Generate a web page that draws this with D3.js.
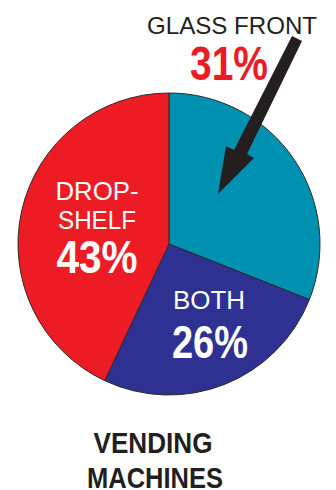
<!DOCTYPE html>
<html>
<head>
<meta charset="utf-8">
<script src="https://cdn.jsdelivr.net/npm/d3@7"></script>
<style>
  html, body { margin: 0; padding: 0; background: #fff; }
  svg { display: block; }
</style>
</head>
<body>
<svg id="chart" width="336" height="490"></svg>
<script>
// Share of vending machines by door type
const categories = ["GLASS FRONT", "BOTH", "DROP-SHELF"];
const values = [31, 26, 43];
const colors = ["#0090b0", "#2e3192", "#ed1c24"];
const title = ["VENDING", "MACHINES"];

const svg = d3.select("#chart");
const cx = 169, cy = 244, r = 151;

const pie = d3.pie().sort(null).value(d => d.value).startAngle(0).endAngle(2 * Math.PI);
const arc = d3.arc().innerRadius(0).outerRadius(r);
const data = categories.map((c, i) => ({ name: c, value: values[i], color: colors[i] }));
const arcs = pie(data);

const g = svg.append("g").attr("transform", `translate(${cx},${cy})`);
g.selectAll("path.slice")
  .data(arcs)
  .join("path")
  .attr("class", "slice")
  .attr("d", arc)
  .attr("fill", d => d.data.color)
  .attr("stroke", "#2a2a2a")
  .attr("stroke-width", 1)
  .attr("stroke-linejoin", "round");

const light = "'Liberation Sans', 'Helvetica', Arial, sans-serif";
const narrow = "'Liberation Sans Narrow', 'Liberation Sans', Arial, sans-serif";

function label(x, y, text, opts) {
  const t = svg.append("text")
    .attr("x", x).attr("y", y)
    .attr("text-anchor", "middle")
    .attr("font-family", opts.bold ? narrow : light)
    .attr("font-weight", opts.bold ? "bold" : "normal")
    .attr("font-size", opts.size)
    .attr("fill", opts.fill)
    .text(text);
  if (opts.width) t.attr("textLength", opts.width).attr("lengthAdjust", "spacingAndGlyphs");
  return t;
}

const pct = v => `${v}%`;

// Glass front callout
label(232, 34, categories[0], { size: 24, fill: "#231f20", width: 170 });
label(229, 80, pct(values[0]), { size: 48, fill: "#ed1c24", bold: true, width: 78 });

// Arrow pointing into the glass front slice
const arrowPts = [
  [292, 36], [302, 41],        // squared tail
  [247, 154],                  // shaft, right side
  [254, 158],                  // right barb
  [218, 194],                  // tip
  [226, 146],                  // left barb
  [234, 150]                   // shaft, left side
];
svg.append("polygon")
  .attr("points", arrowPts.map(p => p.join(",")).join(" "))
  .attr("fill", "#231f20");

// Drop-shelf label
label(97, 200, "DROP-", { size: 25, fill: "#fff", width: 83 });
label(97, 229, "SHELF", { size: 25, fill: "#fff", width: 78 });
label(97, 273, pct(values[2]), { size: 47, fill: "#fff", bold: true, width: 81 });

// Both label
label(209, 309, categories[1], { size: 25, fill: "#fff", width: 72 });
label(210, 358, pct(values[1]), { size: 47, fill: "#fff", bold: true, width: 76 });

// Title
label(153, 453, title[0], { size: 30, fill: "#231f20", bold: true, width: 119 });
label(155, 488, title[1], { size: 30, fill: "#231f20", bold: true, width: 136 });
</script>
</body>
</html>
